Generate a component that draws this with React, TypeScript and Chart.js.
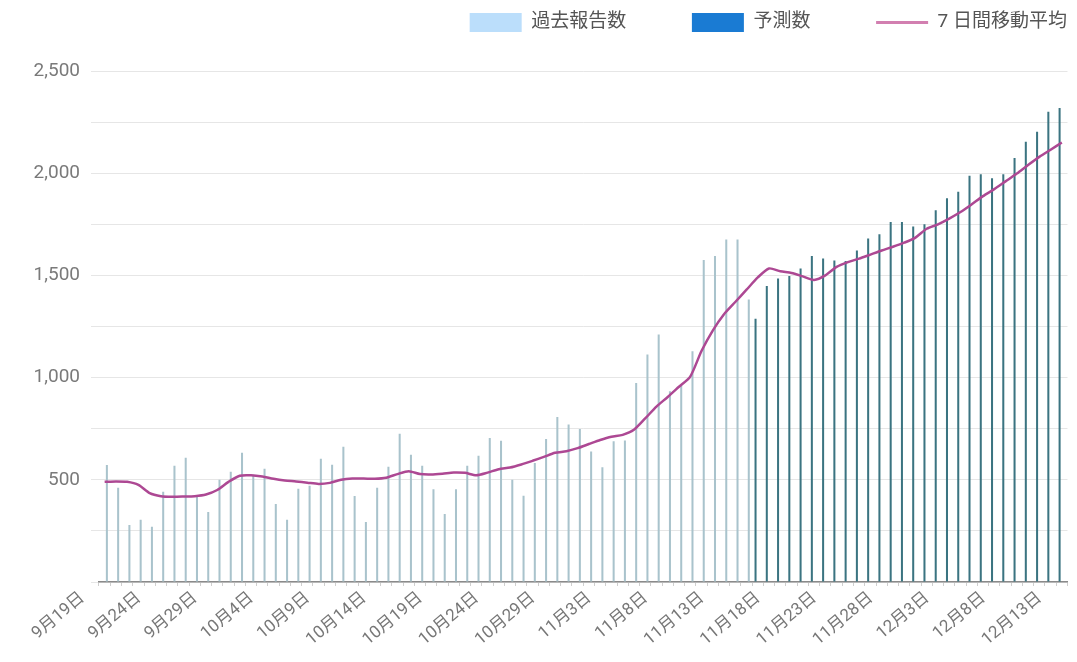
import { useEffect, useRef } from 'react';
import { Chart, registerables } from 'chart.js';

Chart.register(...registerables);

// Category ranges (month, first day, last day)
const monthRanges: [number, number, number][] = [
  [9, 19, 30],
  [10, 1, 31],
  [11, 1, 30],
  [12, 1, 13],
];
const dateLabels: string[] = [];
for (const [m, a, b] of monthRanges) {
  for (let d = a; d <= b; d++) dateLabels.push(`${m}月${d}日`);
}

// 9/19 – 11/15
const pastReported = [
  573, 461, 279, 304, 270, 441, 569, 608, 417, 343, 500, 539, 632, 525, 554,
  382, 304, 456, 471, 603, 574, 662, 421, 294, 461, 564, 725, 623,
  569, 454, 333, 454, 569, 618, 704, 691, 500, 422, 582, 699, 807, 770,
  748, 639, 562, 688, 692, 974, 1113, 1211, 933, 960, 1129, 1575, 1595, 1676, 1676, 1382,
];

// 11/16 – 12/13
const forecastCases = [
  1288, 1448, 1485, 1497, 1534, 1595, 1583, 1573, 1570, 1622, 1681, 1701, 1761, 1761,
  1739, 1750, 1819, 1877, 1909, 1987, 1995, 1975, 1995, 2074, 2154, 2203, 2301, 2319,
];

// 7-day moving average, 9/19 – 12/13
const movingAverage = [
  490, 492, 490, 475, 435, 420, 417, 418, 420, 428, 450, 490, 520, 522, 516,
  505, 497, 492, 486, 480, 485, 500, 506, 506, 505, 510, 528, 542, 528,
  526, 530, 536, 534, 522, 535, 552, 560, 575, 593, 612, 632, 640,
  655, 675, 695, 711, 720, 745, 800, 858, 905, 955, 1005, 1130, 1230, 1310, 1370, 1430,
  1490, 1534, 1520, 1512, 1495, 1478, 1500, 1542, 1565, 1582, 1602, 1622, 1640, 1660,
  1685, 1728, 1750, 1778, 1810, 1848, 1888, 1922, 1960, 1998, 2040, 2080, 2115, 2150,
];

const seriesNames = ['過去報告数', '予測数', '7 日間移動平均'];
const yMax = 2500;
const yStep = 250;
const labelEvery = 5;

const FONT = 'Roboto, "Noto Sans CJK JP", "Noto Sans", sans-serif';
const ITEM_GAP = '\u3000\u3000\u3000 ';

const legendSpacer = {
  id: 'legendSpacer',
  beforeInit(chart: any) {
    const legend = chart.legend;
    if (!legend) return;
    const origFit = legend.fit;
    legend.fit = function () {
      origFit.call(this);
      this.height += 29;
    };
  },
};

export default function App() {
  const ref = useRef<HTMLCanvasElement>(null);

  useEffect(() => {
    document.body.style.margin = '0';
    const n = dateLabels.length;
    const pastData = [...pastReported, ...Array(n - pastReported.length).fill(null)];
    const forecastData = [...Array(n - forecastCases.length).fill(null), ...forecastCases];

    const chart = new Chart(ref.current as HTMLCanvasElement, {
      type: 'bar',
      data: {
        labels: dateLabels,
        datasets: [
          {
            type: 'bar',
            label: seriesNames[0],
            data: pastData,
            backgroundColor: '#a9c3cc',
            barPercentage: 0.45,
            categoryPercentage: 0.8,
            order: 2,
          },
          {
            type: 'bar',
            label: seriesNames[1],
            data: forecastData,
            backgroundColor: '#3b7481',
            barPercentage: 0.45,
            categoryPercentage: 0.8,
            order: 1,
          },
          {
            type: 'line',
            label: seriesNames[2],
            data: movingAverage,
            borderColor: '#ad4893',
            borderWidth: 2.5,
            pointRadius: 0,
            tension: 0.25,
            order: 0,
          } as any,
        ],
      },
      plugins: [legendSpacer],
      options: {
        animation: false,
        responsive: true,
        maintainAspectRatio: false,
        layout: { padding: { left: 0, right: 6, top: 9, bottom: 0 } },
        plugins: {
          tooltip: { enabled: false },
          legend: {
            position: 'top',
            align: 'end',
            labels: {
              usePointStyle: true,
              pointStyleWidth: 52,
              boxHeight: 19,
              padding: 4,
              color: '#555',
              font: { family: FONT, size: 19 },
              generateLabels: () => [
                {
                  text: seriesNames[0] + ITEM_GAP,
                  fillStyle: '#bbdefb',
                  strokeStyle: '#bbdefb',
                  lineWidth: 0,
                  pointStyle: 'rect',
                  datasetIndex: 0,
                  fontColor: '#555',
                } as any,
                {
                  text: seriesNames[1] + ITEM_GAP,
                  fillStyle: '#1a7bd3',
                  strokeStyle: '#1a7bd3',
                  lineWidth: 0,
                  pointStyle: 'rect',
                  datasetIndex: 1,
                  fontColor: '#555',
                } as any,
                {
                  text: seriesNames[2],
                  fillStyle: '#d27fb0',
                  strokeStyle: '#d27fb0',
                  lineWidth: 3,
                  pointStyle: 'line',
                  datasetIndex: 2,
                  fontColor: '#555',
                } as any,
              ],
            },
          },
        },
        scales: {
          x: {
            grid: {
              display: true,
              drawOnChartArea: false,
              drawTicks: true,
              tickLength: 4,
              color: '#cfcfcf',
            },
            border: { display: true, color: '#8a8a8a', width: 1.5 },
            ticks: {
              autoSkip: false,
              maxRotation: 40,
              minRotation: 40,
              padding: 2,
              labelOffset: -22,
              color: '#777',
              font: { family: FONT, size: 17 },
              callback: (_v: any, i: number) => (i % labelEvery === 0 ? dateLabels[i] : ''),
            },
            afterFit: (s: any) => {
              s.height = 80;
            },
          },
          y: {
            min: 0,
            max: yMax,
            grid: { color: '#e6e6e6', tickLength: 8, drawTicks: true },
            border: { display: false },
            ticks: {
              stepSize: yStep,
              padding: 11,
              color: '#7a7a7a',
              font: { family: FONT, size: 19 },
              callback: (v: any) => {
                const num = Number(v);
                if (num === 0 || num % 500 !== 0) return '';
                return num.toLocaleString('en-US');
              },
            },
            afterFit: (s: any) => {
              s.width = 99;
            },
          },
        },
      },
    });
    return () => chart.destroy();
  }, []);

  return (
    <div style={{ width: 1077, height: 662, position: 'relative' }}>
      <canvas ref={ref} style={{ display: 'block' }} />
    </div>
  );
}
